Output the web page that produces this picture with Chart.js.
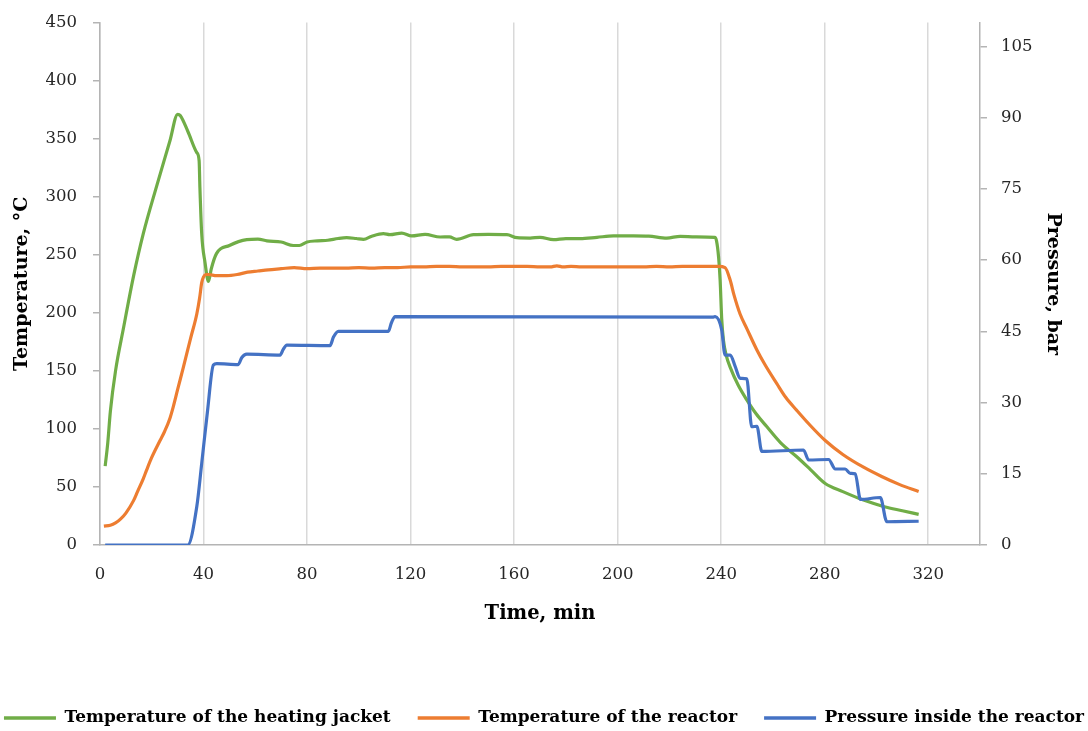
<!DOCTYPE html>
<html lang="en">
<head>
<meta charset="utf-8">
<title>Reactor run</title>
<script src="https://cdn.jsdelivr.net/npm/chart.js@4.4.1/dist/chart.umd.min.js"></script>
<style>
  html, body { margin: 0; padding: 0; background: #fff; }
  .chart-wrap { position: relative; width: 1088px; height: 731px; }
</style>
</head>
<body>
<div class="chart-wrap"><canvas id="runChart"></canvas></div>
<script>
/* ===== data ===== */

// heating jacket temperature, °C
const jacketTime = [2, 3, 4, 6, 9, 13, 16.7, 22, 27, 30, 31, 34, 37.4, 38.3, 38.6, 39.3, 40.6, 41.9, 43, 45,
    50, 56.7, 61, 64.5, 70, 74.7, 77, 80, 84, 88, 92, 95.3, 99, 101.8, 105, 109.5, 112, 116.6, 120.4, 125.6,
    131.4, 135, 137.8, 144.3, 150, 157.2, 161.1, 166.2, 170, 175.2, 180, 185.5, 192, 198.4, 206.1, 212, 219, 224.2, 230, 237.5,
    238.2, 239, 239.6, 240.2, 240.9, 242, 243.5, 246.5, 249.9, 253.5, 257.6, 263, 269.2, 274.5, 280.2, 287, 295, 303, 310, 316.3];
const jacketTemp = [68, 88, 115, 150, 186, 232, 268, 310, 348, 371, 370, 356, 338, 331, 308, 268, 243, 227, 238, 251,
    258, 263, 263.5, 262, 261, 258, 258, 261, 262, 262.5, 264, 264.7, 264, 263.3, 266, 268.2, 267.3, 268.7, 266.2, 267.6,
    265.3, 265.5, 263.3, 267.3, 267.5, 267.3, 264.7, 264.4, 265, 263, 264, 263.9, 265, 266.2, 266.2, 266, 264.4, 265.9, 265.5, 265,
    262, 248, 228, 195, 176, 163, 153, 138, 125, 113, 102, 88, 76, 65, 53, 46, 38.7, 33, 29.5, 26.4];

// reactor temperature, °C
const reactorTime = [1.5, 4, 6, 8, 10, 12.9, 14.5, 16.7, 18, 19.9, 23.2, 25, 27, 28.3, 30, 32.2, 35, 37.4, 38.5, 39.3,
    40, 41, 42, 45, 49, 53, 57, 61, 65, 70, 75, 80, 85, 90, 95, 100, 105, 110, 115, 120,
    125, 130, 135, 140, 145, 150, 155, 160, 165, 170, 174, 176.5, 179, 182, 186, 190, 195, 200, 205, 210,
    215, 220, 225, 230, 235, 239, 241.5, 243.5, 245, 247.3, 250, 253.8, 257, 261.5, 265, 269.2, 274, 280.2, 287, 295,
    302, 309, 316.3];
const reactorTemp = [16.3, 17, 19, 22.5, 27.5, 38, 46, 57, 64.5, 75, 90, 98, 109, 119, 134, 153, 178, 199, 213, 226,
    231, 233, 233, 232, 232, 233, 235, 236, 237, 238, 239, 238, 238.5, 238.5, 238.5, 239, 238.5, 239, 239, 239.5,
    239.5, 240, 240, 239.5, 239.5, 239.5, 240, 240, 240, 239.5, 239.5, 240.5, 239.5, 240, 239.5, 239.5, 239.5, 239.5, 239.5, 239.5,
    240, 239.5, 240, 240, 240, 240, 239, 228, 215, 199, 186, 168, 155, 139, 127, 116, 104, 90, 78, 67,
    59, 52, 46];

// pressure inside the reactor, bar
const pressureTime = [2, 33.9, 37.4, 39.3, 41.5, 43.8, 45.1, 53.4, 54.8, 56.7, 69.6, 70.8, 72.2, 88.9, 90.2, 92.1,
    111.4, 112.6, 114, 237, 237.7, 240.2, 241.5, 243.5, 245.4, 247.3, 249.9, 251.8, 253.8, 255.7, 271.8, 273.8,
    281.5, 284.1, 287.9, 289.9, 291.8, 293.8, 301.5, 304, 316.3];
const pressureBar = [0, 0, 8.1, 17.2, 28, 37.9, 38.2, 38, 39.5, 40.2, 40, 41.2, 42.1, 42, 43.8, 45,
    45, 46.8, 48.1, 48, 48.1, 45.3, 40, 40, 37.6, 35.1, 35, 24.9, 25, 19.7, 20, 17.9,
    18, 16, 16, 15.1, 15, 9.6, 10, 4.9, 5];

// axis ticks
const timeTicks = [0, 40, 80, 120, 160, 200, 240, 280, 320];
const tempTicks = [0, 50, 100, 150, 200, 250, 300, 350, 400, 450];
const pressureTicks = [0, 15, 30, 45, 60, 75, 90, 105];

const seriesNames = ['Temperature of the heating jacket', 'Temperature of the reactor', 'Pressure inside the reactor'];

/* ===== helpers ===== */
const toPoints = (xs, ys) => xs.map((x, i) => ({x: x, y: ys[i]}));
const fixTicks = (values) => (scale) => { scale.ticks = values.map(v => ({value: v})); };

const SERIF = "'DejaVu Serif', 'Liberation Serif', serif";
const AXIS_GREY = '#b4b4b4';

/* ===== chart ===== */
document.addEventListener('DOMContentLoaded', () => {
    const ctx = document.getElementById('runChart').getContext('2d');

    new Chart(ctx, {
        type: 'line',
        data: {
            datasets: [
                {
                    label: seriesNames[0],
                    data: toPoints(jacketTime, jacketTemp),
                    borderColor: '#70ad47',
                    yAxisID: 'y',
                    order: 3
                },
                {
                    label: seriesNames[1],
                    data: toPoints(reactorTime, reactorTemp),
                    borderColor: '#ed7d31',
                    yAxisID: 'y',
                    order: 2
                },
                {
                    label: seriesNames[2],
                    data: toPoints(pressureTime, pressureBar),
                    borderColor: '#4472c4',
                    yAxisID: 'y1',
                    order: 1
                }
            ]
        },
        options: {
            responsive: true,
            maintainAspectRatio: false,
            animation: false,
            layout: {
                // negative sides give the one-row legend enough room
                padding: {top: 22, bottom: -5.5, left: -40, right: -40}
            },
            elements: {
                line: {borderWidth: 3.2, cubicInterpolationMode: 'monotone', fill: false},
                point: {radius: 0, hoverRadius: 0, borderWidth: 3.5}
            },
            plugins: {
                tooltip: {enabled: false},
                legend: {
                    position: 'bottom',
                    labels: {
                        usePointStyle: true,
                        pointStyle: 'line',
                        pointStyleWidth: 52,
                        padding: 27,
                        color: '#000',
                        font: {family: SERIF, size: 17, weight: 'bold'},
                        // keep dataset order (draw order puts pressure on top)
                        sort: (a, b) => a.datasetIndex - b.datasetIndex
                    }
                }
            },
            scales: {
                x: {
                    type: 'linear',
                    min: 0,
                    max: 340,
                    afterBuildTicks: fixTicks(timeTicks),
                    afterFit: (scale) => { scale.height = 137.5; },
                    grid: {color: '#d9d9d9', lineWidth: 1.5, drawTicks: false},
                    border: {color: AXIS_GREY, width: 1.5},
                    ticks: {color: '#262626', padding: 20, font: {family: SERIF, size: 16.5}},
                    title: {
                        display: true,
                        text: 'Time, min',
                        color: '#000',
                        padding: {top: 0, bottom: 56.8},
                        font: {family: SERIF, size: 19.5, weight: 'bold'}
                    }
                },
                y: {
                    position: 'left',
                    min: 0,
                    max: 450,
                    afterBuildTicks: fixTicks(tempTicks),
                    afterFit: (scale) => { scale.width = 140; },
                    grid: {drawOnChartArea: false, color: AXIS_GREY, lineWidth: 1.5, tickLength: 7},
                    border: {color: AXIS_GREY, width: 1.5},
                    // short line height so the top label does not push the plot down
                    ticks: {color: '#262626', padding: 16, font: {family: SERIF, size: 16.5, lineHeight: 0.8}},
                    title: {
                        display: true,
                        text: 'Temperature, °C',
                        color: '#000',
                        padding: {top: 50.6, bottom: 0},
                        font: {family: SERIF, size: 19, weight: 'bold'}
                    }
                },
                y1: {
                    position: 'right',
                    min: 0,
                    max: 110,
                    afterBuildTicks: fixTicks(pressureTicks),
                    afterFit: (scale) => { scale.width = 148; },
                    grid: {drawOnChartArea: false, color: AXIS_GREY, lineWidth: 1.5, tickLength: 7},
                    border: {color: AXIS_GREY, width: 1.5},
                    ticks: {color: '#262626', padding: 14, font: {family: SERIF, size: 16.5, lineHeight: 0.8}},
                    title: {
                        display: true,
                        text: 'Pressure, bar',
                        color: '#000',
                        padding: {top: 63.6, bottom: 0},
                        font: {family: SERIF, size: 19, weight: 'bold'}
                    }
                }
            }
        }
    });
});
</script>
</body>
</html>
